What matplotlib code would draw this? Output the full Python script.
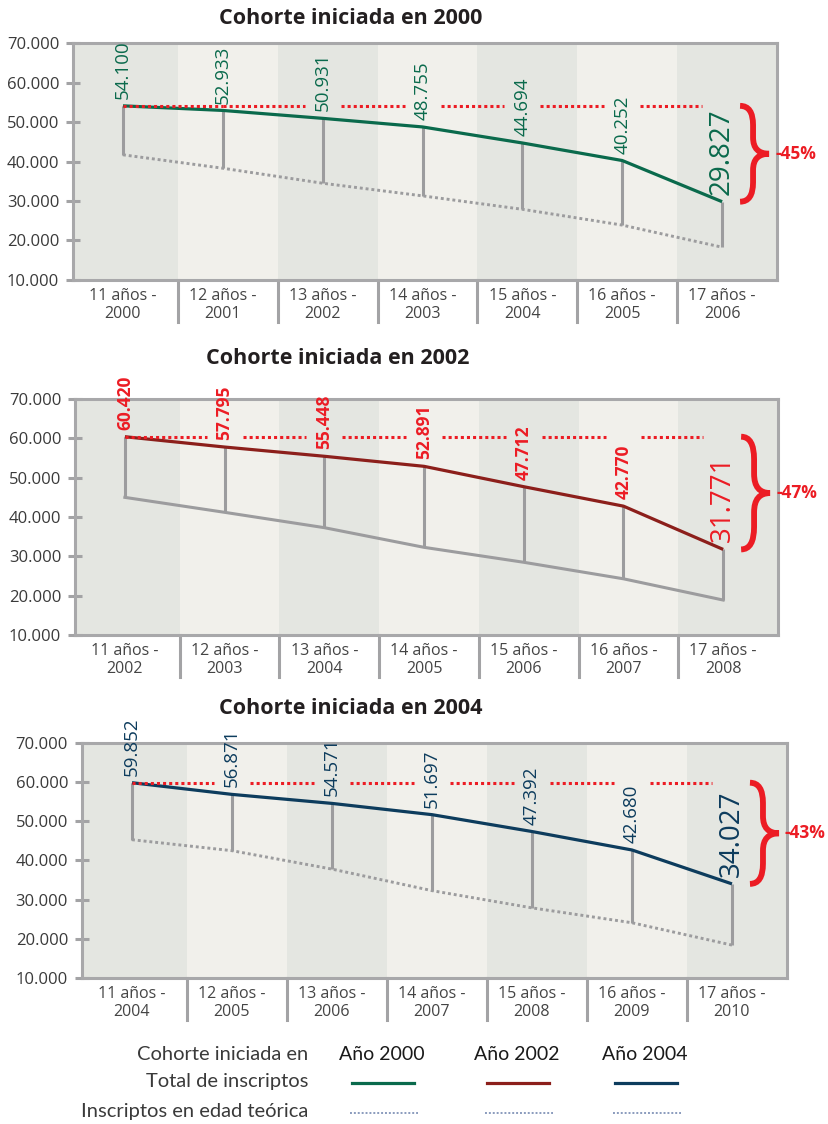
import matplotlib
matplotlib.use("Agg")
import matplotlib.pyplot as plt
from matplotlib.path import Path
from matplotlib.patches import PathPatch
from matplotlib.ticker import FuncFormatter
import matplotlib.transforms as mtransforms

plt.rcParams['font.family'] = ['Open Sans', 'DejaVu Sans']

# Datos de cada cohorte
edades = ["11 años", "12 años", "13 años", "14 años", "15 años", "16 años", "17 años"]
inicio_2000 = 2000
inicio_2002 = 2002
inicio_2004 = 2004

total_2000 = [54100, 52933, 50931, 48755, 44694, 40252, 29827]
teorica_2000 = [41700, 38300, 34500, 31300, 27900, 23900, 18300]

total_2002 = [60420, 57795, 55448, 52891, 47712, 42770, 31771]
teorica_2002 = [45000, 41200, 37300, 32300, 28500, 24300, 18900]

total_2004 = [59852, 56871, 54571, 51697, 47392, 42680, 34027]
teorica_2004 = [45300, 42500, 37800, 32300, 27900, 24100, 18400]

y_ticks = [10000, 20000, 30000, 40000, 50000, 60000, 70000]

# Colores
VERDE = '#0a6a4c'
BORDO = '#8c1f1b'
AZUL = '#0d3c5d'
ROJO = '#ec1c24'
GRIS = '#9c9c9e'
FONDO_OSCURO = '#e4e6e1'
FONDO_CLARO = '#f1f0eb'


def miles(v, pos=None):
    return f"{int(v):,}".replace(",", ".")


def llave(ax, x, y_top, y_bot):
    """Dibuja una llave '}' entre y_top y y_bot a la derecha de x."""
    x0, x1, x2 = x + 0.18, x + 0.31, x + 0.47
    h = y_top - y_bot
    ym = (y_top + y_bot) / 2
    r = 0.2 * h
    rm = 0.17 * h
    verts = [(x0, y_top), (x1, y_top), (x1, y_top - r),
             (x1, ym + rm), (x1, ym), (x2, ym),
             (x1, ym), (x1, ym - rm),
             (x1, y_bot + r), (x1, y_bot), (x0, y_bot)]
    codes = [Path.MOVETO, Path.CURVE3, Path.CURVE3,
             Path.LINETO, Path.CURVE3, Path.CURVE3,
             Path.CURVE3, Path.CURVE3,
             Path.LINETO, Path.CURVE3, Path.CURVE3]
    patch = PathPatch(Path(verts, codes), facecolor='none', edgecolor=ROJO,
                      lw=4.2, capstyle='butt', clip_on=False, zorder=6)
    ax.add_patch(patch)


def graficar_cohorte(ax, inicio, total, teorica, color, estilo_teorica,
                     peso_etiqueta):
    n = len(total)
    xs = list(range(n))
    ax.set_xlim(-0.5, n - 0.45)
    ax.set_ylim(10000, 70000)

    # Franjas de fondo alternadas
    bordes = [-0.5] + [i + 0.55 for i in range(n - 1)] + [n - 0.45]
    for i in range(n):
        ax.axvspan(bordes[i], bordes[i + 1], color=FONDO_OSCURO if i % 2 == 0 else FONDO_CLARO,
                   lw=0, zorder=0)

    # Líneas verticales entre total y edad teórica
    ax.vlines(xs, teorica, total, color=GRIS, lw=2.2, zorder=2)

    # Inscriptos en edad teórica
    if estilo_teorica == 'punteada':
        ax.plot(xs, teorica, color=GRIS, lw=2.1, ls=(0, (1, 1)), zorder=3)
    else:
        ax.plot(xs, teorica, color=GRIS, lw=2.2, zorder=3)

    # Total de inscriptos
    ax.plot(xs, total, color=color, lw=2.3, zorder=4, solid_capstyle='butt')

    # Línea de referencia roja con cortes donde cruza una etiqueta
    ref = total[0]
    cruza = [i > 0 and ref - total[i] > 1500 for i in range(n)]
    for i in range(n - 1):
        a = xs[i] + (0.18 if cruza[i] else 0)
        b = xs[i + 1] - (0.18 if cruza[i + 1] else 0) if i + 1 < n - 1 else xs[i + 1] - 0.2
        ax.plot([a, b], [ref, ref], color=ROJO, lw=2.2, ls=(0, (1, 1)), zorder=5)

    # Etiquetas de valores
    for i, v in enumerate(total):
        ultimo = i == n - 1
        etiqueta_color = ROJO if peso_etiqueta == 'bold' else color
        if ultimo:
            tam = 20
        elif peso_etiqueta == 'bold':
            tam = 12.5
        else:
            tam = 13.5
        ax.annotate(miles(v), (xs[i], v), xytext=(0, 5), textcoords='offset points',
                    rotation=90, ha='center', va='bottom', fontsize=tam,
                    fontweight='normal' if ultimo else peso_etiqueta,
                    color=etiqueta_color, zorder=7, annotation_clip=False)

    # Llave y porcentaje de caída
    llave(ax, xs[-1], ref, total[-1])
    caida = (total[-1] - ref) / ref * 100
    ax.text(xs[-1] + 0.53, (ref + total[-1]) / 2, f"-{abs(caida):.0f}%",
            color=ROJO, fontsize=12.5, fontweight='bold', ha='left', va='center',
            clip_on=False, zorder=7)

    # Ejes
    ax.set_yticks(y_ticks)
    ax.yaxis.set_major_formatter(FuncFormatter(miles))
    ax.tick_params(axis='y', direction='inout', length=10, width=2.2, color='#a3a3a5',
                   labelsize=12, labelcolor='#3a3a3a', pad=5)
    ax.set_xticks(xs)
    ax.set_xticklabels([f"{e} -\n{inicio + k}" for k, e in enumerate(edades)],
                       fontsize=11.5, color='#444444', linespacing=1.15)
    ax.tick_params(axis='x', length=0, pad=6)
    for lado in ax.spines.values():
        lado.set_color('#a8a8aa')
        lado.set_linewidth(2.2)

    # Separadores entre columnas debajo del eje
    trans = mtransforms.blended_transform_factory(ax.transData, ax.transAxes)
    for b in bordes[1:-1]:
        ax.plot([b, b], [0, -0.178], color='#a3a3a5', lw=2.2, transform=trans,
                clip_on=False, zorder=1)


fig = plt.figure(figsize=(8.29, 11.24), dpi=100)

ax1 = fig.add_axes([0.0881, 0.7509, 0.8492, 0.2108])
ax2 = fig.add_axes([0.0905, 0.4350, 0.8480, 0.2100])
ax3 = fig.add_axes([0.0989, 0.1299, 0.8504, 0.2091])

graficar_cohorte(ax1, inicio_2000, total_2000, teorica_2000, VERDE, 'punteada', 'normal')
graficar_cohorte(ax2, inicio_2002, total_2002, teorica_2002, BORDO, 'continua', 'bold')
graficar_cohorte(ax3, inicio_2004, total_2004, teorica_2004, AZUL, 'punteada', 'normal')

# Títulos
for y_px, x_px, anio in [(18, 351, inicio_2000), (358, 338, inicio_2002), (708, 351, inicio_2004)]:
    fig.text(x_px / 829, 1 - y_px / 1124, f"Cohorte iniciada en {anio}",
             ha='center', va='center', fontsize=15.5, fontweight='bold', color='#231f20')

# Leyenda
fuente_leyenda = ['Lato', 'DejaVu Sans']
for y_px, txt in [(1055, "Cohorte iniciada en"), (1082, "Total de inscriptos"),
                  (1112, "Inscriptos en edad teórica")]:
    fig.text(308 / 829, 1 - y_px / 1124, txt, ha='right', va='center', fontsize=14.5,
             color='#3a3a3a', family=fuente_leyenda)

for xc, anio, color in [(382, inicio_2000, VERDE), (517, inicio_2002, BORDO), (645, inicio_2004, AZUL)]:
    fig.text(xc / 829, 1 - 1055 / 1124, f"Año {anio}", ha='center', va='center',
             fontsize=14, color='#1a1a1a', family=fuente_leyenda)
    fig.add_artist(plt.Line2D([(xc - 30) / 829, (xc + 32) / 829], [1 - 1083 / 1124] * 2,
                              color=color, lw=2.3, transform=fig.transFigure))
    fig.add_artist(plt.Line2D([(xc - 32) / 829, (xc + 36) / 829], [1 - 1113 / 1124] * 2,
                              color='#8a9bbd', lw=1.4, ls=(0, (1, 1)), transform=fig.transFigure))

fig.savefig("out.png", dpi=100, facecolor='white')
